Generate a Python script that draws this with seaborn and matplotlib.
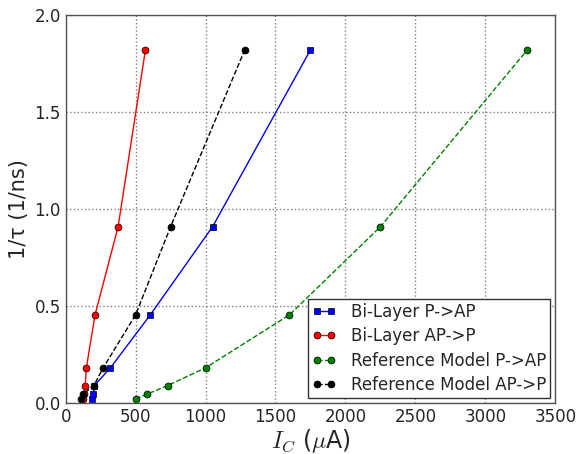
import pandas as pd
import matplotlib
matplotlib.use("Agg")
import matplotlib.pyplot as plt
import seaborn as sns

# 1/tau values (1/ns), shared by all curves
inv_tau = [0.0227, 0.0455, 0.0909, 0.182, 0.455, 0.909, 1.82]

# switching current I_C (uA) for each curve
bilayer_p_ap = [190, 196, 205, 320, 605, 1050, 1750]
bilayer_ap_p = [125, 132, 140, 148, 210, 375, 570]
ref_p_ap = [500, 580, 730, 1000, 1600, 2250, 3300]
ref_ap_p = [110, 124, 202, 268, 500, 750, 1280]

labels = ["Bi-Layer P->AP", "Bi-Layer AP->P", "Reference Model P->AP", "Reference Model AP->P"]

sns.set_style("white")
plt.rcParams['font.family'] = ['DejaVu Sans']
plt.rcParams['mathtext.fontset'] = 'cm'

fig = plt.figure(figsize=(5.76, 4.54), dpi=100)
ax = fig.add_axes([0.114, 0.112, 0.85, 0.855])

series = [
    (bilayer_p_ap, labels[0], (0, 0, 1), '-', 's', 5),
    (bilayer_ap_p, labels[1], (1, 0, 0), '-', 'o', 5),
    (ref_p_ap, labels[2], (0, 0.5, 0), '--', 'o', 5),
    (ref_ap_p, labels[3], (0, 0, 0), '--', 'o', 5),
]
for xs, lab, col, ls, mk, ms in series:
    df = pd.DataFrame({"I": xs, "r": inv_tau})
    sns.lineplot(data=df, x="I", y="r", ax=ax, color=col, linestyle=ls, marker=mk,
                 markersize=ms, markeredgecolor='k', markeredgewidth=0.5,
                 linewidth=1.0, label=lab, estimator=None, sort=False)

ax.set_xlim(0, 3500)
ax.set_ylim(0, 2.0)
ax.set_xticks(range(0, 3501, 500))
ax.set_yticks([0.0, 0.5, 1.0, 1.5, 2.0])
ax.set_yticklabels(["0.0", "0.5", "1.0", "1.5", "2.0"])
ax.tick_params(labelsize=12, length=0)
ax.grid(True, linestyle=':', color='gray', linewidth=1.0)
for s in ax.spines.values():
    s.set_color('#555555')
    s.set_linewidth(1.0)

ax.set_xlabel(r"$I_C$ ($\mu$A)", fontsize=17, labelpad=1)
ax.set_ylabel("1/τ (1/ns)", fontsize=15)

leg = ax.legend(loc='lower right', fontsize=12, numpoints=2, frameon=True,
                fancybox=False, framealpha=1, edgecolor='#333333',
                handlelength=1.4, borderpad=0.25, labelspacing=0.38, handletextpad=0.9,
                borderaxespad=0.3)

fig.savefig("out.png", dpi=100)
